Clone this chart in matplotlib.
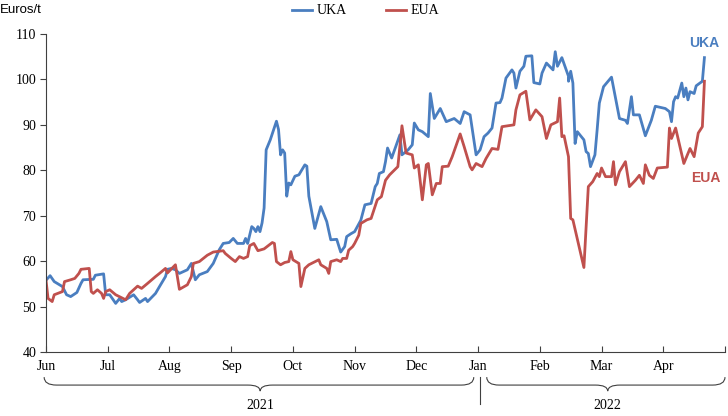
import numpy as np
import pandas as pd
import matplotlib
matplotlib.use("Agg")
import matplotlib.pyplot as plt
from matplotlib.path import Path
from matplotlib.patches import PathPatch
from matplotlib.transforms import blended_transform_factory

# UK and EU carbon allowance prices, Euros per tonne
uka_dates = [
    "2021-06-01", "2021-06-03", "2021-06-05", "2021-06-09", "2021-06-11", "2021-06-13",
    "2021-06-16", "2021-06-18", "2021-06-19", "2021-06-24", "2021-06-25", "2021-06-29",
    "2021-06-30", "2021-07-02", "2021-07-05", "2021-07-07", "2021-07-08", "2021-07-10",
    "2021-07-14", "2021-07-16", "2021-07-17", "2021-07-20", "2021-07-21", "2021-07-25",
    "2021-07-27", "2021-07-30", "2021-07-31", "2021-08-02", "2021-08-04", "2021-08-06",
    "2021-08-10", "2021-08-12", "2021-08-14", "2021-08-16", "2021-08-20", "2021-08-23",
    "2021-08-26", "2021-08-28", "2021-08-31", "2021-09-02", "2021-09-04", "2021-09-07",
    "2021-09-08", "2021-09-09", "2021-09-11", "2021-09-12", "2021-09-13", "2021-09-14",
    "2021-09-15", "2021-09-16", "2021-09-17", "2021-09-18", "2021-09-20", "2021-09-23",
    "2021-09-24", "2021-09-25", "2021-09-26", "2021-09-27", "2021-09-28", "2021-09-29",
    "2021-09-30", "2021-10-02", "2021-10-04", "2021-10-07", "2021-10-08", "2021-10-09",
    "2021-10-12", "2021-10-15", "2021-10-18", "2021-10-20", "2021-10-23", "2021-10-25",
    "2021-10-27", "2021-10-28", "2021-10-30", "2021-11-01", "2021-11-04", "2021-11-06",
    "2021-11-09", "2021-11-11", "2021-11-12", "2021-11-13", "2021-11-15", "2021-11-16",
    "2021-11-17", "2021-11-19", "2021-11-23", "2021-11-24", "2021-11-27", "2021-11-29",
    "2021-11-30", "2021-12-02", "2021-12-04", "2021-12-07", "2021-12-08", "2021-12-10",
    "2021-12-13", "2021-12-16", "2021-12-20", "2021-12-23", "2021-12-25", "2021-12-28",
    "2021-12-31", "2022-01-02", "2022-01-04", "2022-01-06", "2022-01-08", "2022-01-10",
    "2022-01-12", "2022-01-13", "2022-01-15", "2022-01-18", "2022-01-19", "2022-01-20",
    "2022-01-22", "2022-01-24", "2022-01-25", "2022-01-28", "2022-01-29", "2022-02-01",
    "2022-02-02", "2022-02-04", "2022-02-07", "2022-02-08", "2022-02-09", "2022-02-11",
    "2022-02-14", "2022-02-14", "2022-02-15", "2022-02-16", "2022-02-17", "2022-02-18",
    "2022-02-21", "2022-02-22", "2022-02-23", "2022-02-24", "2022-02-26", "2022-02-27",
    "2022-02-28", "2022-03-02", "2022-03-06", "2022-03-10", "2022-03-13", "2022-03-14",
    "2022-03-16", "2022-03-17", "2022-03-20", "2022-03-23", "2022-03-26", "2022-03-28",
    "2022-04-02", "2022-04-04", "2022-04-05", "2022-04-06", "2022-04-07", "2022-04-08",
    "2022-04-10", "2022-04-11", "2022-04-12", "2022-04-13", "2022-04-14", "2022-04-16",
    "2022-04-17", "2022-04-20", "2022-04-21",
]
uka_values = [
    55.8, 56.8, 55.5, 54.4, 52.6, 52.2,
    53.1, 55.1, 55.9, 56.0, 56.9, 57.2,
    52.6, 52.6, 50.7, 51.8, 51.1, 51.5,
    52.6, 51.5, 50.9, 51.8, 51.1, 52.9,
    54.4, 56.6, 58.2, 58.4, 58.1, 57.3,
    58.1, 59.5, 55.9, 57.0, 57.7, 59.5,
    62.5, 63.9, 64.1, 65.0, 63.9, 63.9,
    65.0, 63.9, 67.6, 67.2, 66.5, 67.6,
    66.5, 68.4, 71.7, 84.5, 86.7, 90.8,
    89.0, 83.4, 84.5, 83.8, 74.3, 77.2,
    76.8, 78.7, 79.0, 81.2, 80.9, 74.3,
    67.2, 72.0, 68.7, 64.7, 64.8, 62.0,
    63.2, 65.4, 66.0, 66.5, 69.0, 72.4,
    72.7, 76.4, 77.1, 79.3, 79.7, 81.9,
    84.9, 82.7, 87.8, 83.4, 84.5, 85.6,
    90.4, 88.9, 88.5, 87.4, 96.9, 91.4,
    93.6, 90.7, 91.4, 90.3, 92.9, 92.2,
    83.4, 84.5, 87.4, 88.2, 89.3, 94.8,
    94.9, 95.9, 100.3, 102.1, 101.4, 98.1,
    101.8, 102.9, 105.1, 105.2, 99.3, 99.0,
    101.4, 103.6, 102.1, 106.1, 102.9, 104.8,
    100.7, 99.6, 101.8, 99.2, 85.9, 88.5,
    86.7, 84.1, 83.7, 80.8, 83.4, 88.9,
    94.8, 98.4, 100.5, 91.4, 91.0, 90.3,
    96.2, 92.2, 92.2, 87.6, 91.0, 94.1,
    93.6, 92.9, 90.7, 95.1, 96.2, 95.9,
    99.2, 96.2, 98.1, 95.5, 97.3, 96.9,
    98.6, 99.6, 104.8,
]

eua_dates = [
    "2021-06-01", "2021-06-02", "2021-06-04", "2021-06-05", "2021-06-09", "2021-06-10",
    "2021-06-13", "2021-06-15", "2021-06-17", "2021-06-18", "2021-06-22", "2021-06-23",
    "2021-06-24", "2021-06-26", "2021-06-28", "2021-06-29", "2021-06-30", "2021-07-02",
    "2021-07-05", "2021-07-10", "2021-07-12", "2021-07-16", "2021-07-18", "2021-07-21",
    "2021-07-25", "2021-07-27", "2021-07-30", "2021-07-31", "2021-08-04", "2021-08-06",
    "2021-08-10", "2021-08-12", "2021-08-13", "2021-08-16", "2021-08-20", "2021-08-23",
    "2021-08-28", "2021-08-29", "2021-09-01", "2021-09-03", "2021-09-05", "2021-09-07",
    "2021-09-09", "2021-09-10", "2021-09-12", "2021-09-14", "2021-09-17", "2021-09-21",
    "2021-09-22", "2021-09-23", "2021-09-25", "2021-09-27", "2021-09-29", "2021-09-30",
    "2021-10-01", "2021-10-04", "2021-10-05", "2021-10-07", "2021-10-09", "2021-10-14",
    "2021-10-15", "2021-10-18", "2021-10-19", "2021-10-20", "2021-10-23", "2021-10-25",
    "2021-10-26", "2021-10-28", "2021-10-29", "2021-10-31", "2021-11-01", "2021-11-03",
    "2021-11-04", "2021-11-07", "2021-11-09", "2021-11-12", "2021-11-14", "2021-11-16",
    "2021-11-18", "2021-11-22", "2021-11-24", "2021-11-26", "2021-11-29", "2021-11-30",
    "2021-12-02", "2021-12-04", "2021-12-06", "2021-12-07", "2021-12-09", "2021-12-11",
    "2021-12-13", "2021-12-14", "2021-12-17", "2021-12-19", "2021-12-23", "2021-12-25",
    "2021-12-28", "2021-12-29", "2021-12-31", "2022-01-03", "2022-01-05", "2022-01-08",
    "2022-01-11", "2022-01-13", "2022-01-19", "2022-01-20", "2022-01-22", "2022-01-25",
    "2022-01-27", "2022-01-30", "2022-02-02", "2022-02-04", "2022-02-06", "2022-02-09",
    "2022-02-10", "2022-02-11", "2022-02-12", "2022-02-14", "2022-02-15", "2022-02-16",
    "2022-02-21", "2022-02-23", "2022-02-25", "2022-02-27", "2022-02-28", "2022-03-01",
    "2022-03-03", "2022-03-06", "2022-03-07", "2022-03-08", "2022-03-10", "2022-03-13",
    "2022-03-15", "2022-03-18", "2022-03-20", "2022-03-22", "2022-03-23", "2022-03-25",
    "2022-03-27", "2022-03-29", "2022-04-03", "2022-04-04", "2022-04-05", "2022-04-07",
    "2022-04-11", "2022-04-14", "2022-04-16", "2022-04-18", "2022-04-20", "2022-04-21",
]
eua_values = [
    55.8, 51.8, 51.1, 52.6, 53.3, 55.5,
    55.9, 56.2, 57.3, 58.2, 58.4, 53.3,
    52.9, 53.7, 52.9, 51.8, 53.3, 53.7,
    52.6, 51.5, 52.9, 54.5, 54.0, 55.1,
    56.6, 57.3, 58.4, 57.4, 59.2, 53.8,
    54.8, 56.6, 59.5, 59.9, 61.3, 62.0,
    62.3, 61.7, 60.6, 59.9, 61.0, 60.6,
    61.0, 63.4, 63.9, 62.3, 62.7, 64.1,
    63.9, 59.9, 59.2, 59.7, 59.9, 62.1,
    60.3, 59.5, 54.4, 58.4, 59.2, 60.3,
    59.2, 58.4, 57.3, 59.9, 60.3, 59.9,
    60.6, 60.6, 62.4, 63.2, 63.9, 65.7,
    68.3, 69.1, 69.4, 73.5, 74.2, 77.8,
    79.0, 80.8, 89.8, 83.8, 83.4, 80.5,
    81.2, 73.5, 81.2, 81.5, 74.6, 77.1,
    77.1, 80.8, 80.9, 83.0, 88.0, 85.2,
    80.8, 80.1, 81.5, 80.8, 82.6, 84.8,
    84.6, 89.6, 90.0, 93.3, 96.6, 97.4,
    91.1, 93.3, 91.8, 87.0, 90.0, 90.7,
    95.9, 87.4, 87.6, 83.0, 69.4, 69.1,
    58.6, 76.4, 77.5, 79.3, 78.6, 80.5,
    78.6, 78.6, 81.9, 76.8, 79.7, 81.9,
    76.4, 77.8, 78.9, 77.1, 81.2, 78.9,
    78.2, 80.5, 80.7, 89.3, 87.0, 89.3,
    81.5, 84.8, 83.0, 88.2, 89.6, 99.6,
]

month_labels = ["Jun", "Jul", "Aug", "Sep", "Oct", "Nov", "Dec", "Jan", "Feb", "Mar", "Apr"]
year_labels = ["2021", "2022"]

BLUE = "#4A7EC0"
RED = "#C0504D"
AXIS = "#404040"


def month_position(dates):
    # Excel-style category axis: every month gets the same width
    d = pd.to_datetime(pd.Series(dates))
    months = (d.dt.year - 2021) * 12 + d.dt.month - 6
    return (months + (d.dt.day - 1) / d.dt.days_in_month).to_numpy()


fig = plt.figure(figsize=(7.28, 4.16), dpi=100)
ax = fig.add_axes([46 / 728, 1 - 352 / 416, (725 - 46) / 728, 318 / 416])

ax.plot(month_position(uka_dates), uka_values, color=BLUE, lw=2.0, label="UKA",
        solid_joinstyle="round")
ax.plot(month_position(eua_dates), eua_values, color=RED, lw=2.0, label="EUA",
        solid_joinstyle="round")

ax.set_xlim(0, 11)
ax.set_ylim(40, 110)
ax.set_yticks(np.arange(40, 111, 10))
ax.set_xticks(np.arange(0, 12))
ax.set_xticklabels(month_labels + [""])

serif = "Liberation Serif"
for lab in ax.get_xticklabels() + ax.get_yticklabels():
    lab.set_fontfamily(serif)
    lab.set_fontsize(10)

for s in ["top", "right"]:
    ax.spines[s].set_visible(False)
for s in ["left", "bottom"]:
    ax.spines[s].set_color(AXIS)
    ax.spines[s].set_linewidth(0.8)
ax.tick_params(axis="y", direction="out", length=4, width=0.8, color=AXIS, pad=3)
ax.tick_params(axis="x", direction="in", length=4, width=0.8, color=AXIS, pad=6)

# year braces under the month labels
trans = blended_transform_factory(ax.transData, ax.transAxes)


def brace(x0, x1, xc, r=0.2, top=-0.079, mid=-0.104, tip=-0.123):
    verts = [(x0, top), (x0, mid), (x0 + r, mid),
             (xc - r, mid), (xc, mid), (xc, tip),
             (xc, mid), (xc + r, mid),
             (x1 - r, mid), (x1, mid), (x1, top)]
    codes = [Path.MOVETO, Path.CURVE3, Path.CURVE3,
             Path.LINETO, Path.CURVE3, Path.CURVE3,
             Path.CURVE3, Path.CURVE3,
             Path.LINETO, Path.CURVE3, Path.CURVE3]
    ax.add_patch(PathPatch(Path(verts, codes), fc="none", ec=AXIS, lw=0.8,
                           transform=trans, clip_on=False))


brace(-0.03, 6.93, 3.47)
brace(7.14, 11.0, 9.1)
ax.plot([7.03, 7.03], [-0.079, -0.165], color=AXIS, lw=0.8, transform=trans, clip_on=False)
ax.text(3.47, -0.167, year_labels[0], transform=trans, ha="center", va="center",
        fontfamily=serif, fontsize=10)
ax.text(9.1, -0.167, year_labels[1], transform=trans, ha="center", va="center",
        fontfamily=serif, fontsize=10)

fig.text(0.0, 1 - 10 / 416, "Euros/t", ha="left", va="center",
         fontfamily="Liberation Sans", fontsize=9.5)
fig.legend(loc="center", bbox_to_anchor=(0.502, 1 - 11 / 416), ncol=2, frameon=False,
           prop={"family": serif, "size": 10}, handlelength=1.5, handletextpad=0.3,
           columnspacing=2.8, borderpad=0, borderaxespad=0)

fig.text(704 / 728, 1 - 43 / 416, "UKA", color=BLUE, ha="center", va="center",
         fontfamily="Liberation Sans", fontsize=10, fontweight="bold")
fig.text(706 / 728, 1 - 178 / 416, "EUA", color=RED, ha="center", va="center",
         fontfamily="Liberation Sans", fontsize=10, fontweight="bold")

fig.savefig("out.png", dpi=100)
